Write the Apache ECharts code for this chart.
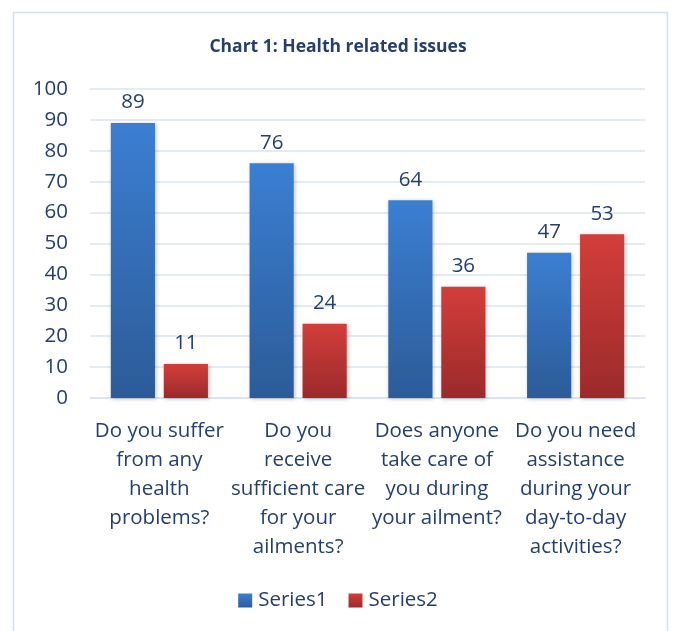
<!DOCTYPE html>
<html>
<head>
<meta charset="utf-8">
<script src="https://cdn.jsdelivr.net/npm/echarts@6/dist/echarts.min.js"></script>
<style>
  html, body { margin: 0; padding: 0; background: #ffffff; }
  #chart { width: 676px; height: 631px; }
</style>
</head>
<body>
<div id="chart"></div>
<script>
// Survey questions on the horizontal axis
const categories = [
  'Do you suffer\nfrom any\nhealth\nproblems?',
  'Do you\nreceive\nsufficient care\nfor your\nailments?',
  'Does anyone\ntake care of\nyou during\nyour ailment?',
  'Do you need\nassistance\nduring your\nday-to-day\nactivities?'
];
const series1Values = [89, 76, 64, 47];
const series2Values = [11, 24, 36, 53];
const seriesNames = ['Series1', 'Series2'];
const yTicks = { min: 0, max: 100, interval: 10 };

const textColor = '#243f6e';
const gridColor = '#d9e4f3';
const fontFamily = '"Open Sans", Lato, sans-serif';
const fontSize = 20.5;

const blueFill = new echarts.graphic.LinearGradient(0, 0, 0, 1, [
  { offset: 0, color: '#3b7fd2' },
  { offset: 1, color: '#2c5b98' }
]);
const redFill = new echarts.graphic.LinearGradient(0, 0, 0, 1, [
  { offset: 0, color: '#d33e3a' },
  { offset: 1, color: '#9b2a2b' }
]);

function barSeries(name, values, fill) {
  return {
    name: name,
    type: 'bar',
    data: values,
    barGap: '20%',
    barCategoryGap: '30%',
    itemStyle: {
      color: fill,
      shadowBlur: 4,
      shadowColor: 'rgba(0,0,0,0.25)',
      shadowOffsetX: 1,
      shadowOffsetY: 1
    },
    label: {
      show: true,
      position: 'top',
      distance: 10,
      color: textColor,
      fontSize: fontSize,
      fontFamily: fontFamily
    }
  };
}

const chart = echarts.init(document.getElementById('chart'), null, { renderer: 'canvas' });
chart.setOption({
  backgroundColor: '#ffffff',
  animation: false,
  graphic: [{
    type: 'rect',
    shape: { x: 13.5, y: 12.5, width: 654, height: 640 },
    style: { fill: 'none', stroke: '#d2e0f2', lineWidth: 1.5 },
    z: -1
  }],
  title: {
    text: 'Chart 1: Health related issues',
    left: 'center',
    top: 33,
    textStyle: { color: textColor, fontSize: 17.5, fontWeight: 'bold', fontFamily: fontFamily }
  },
  legend: {
    data: seriesNames,
    bottom: 15,
    left: 'center',
    itemWidth: 14,
    itemHeight: 14,
    itemGap: 21,
    icon: 'rect',
    textStyle: { color: textColor, fontSize: fontSize, fontFamily: fontFamily, padding: [0, 0, 0, 1] }
  },
  grid: { left: 90, right: 31, top: 89, bottom: 233, containLabel: false },
  xAxis: {
    type: 'category',
    data: categories,
    axisLine: { show: true, lineStyle: { color: gridColor, width: 1.5 } },
    axisTick: { show: false },
    axisLabel: {
      color: textColor,
      fontSize: fontSize,
      fontFamily: fontFamily,
      lineHeight: 29,
      margin: 19,
      interval: 0,
      align: 'center',
      verticalAlign: 'top'
    }
  },
  yAxis: {
    type: 'value',
    min: yTicks.min,
    max: yTicks.max,
    interval: yTicks.interval,
    axisLine: { show: false },
    axisTick: { show: false },
    splitLine: { lineStyle: { color: gridColor, width: 1.5 } },
    axisLabel: { color: textColor, fontSize: fontSize, fontFamily: fontFamily, margin: 22 }
  },
  series: [
    barSeries(seriesNames[0], series1Values, blueFill),
    barSeries(seriesNames[1], series2Values, redFill)
  ]
});
</script>
</body>
</html>
